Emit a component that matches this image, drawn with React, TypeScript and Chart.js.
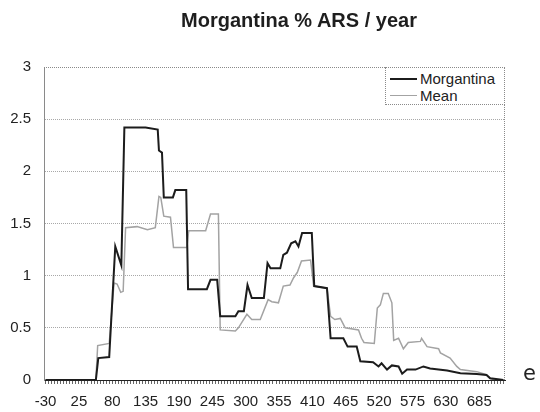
import { useEffect, useRef } from 'react';
import { Chart, registerables } from 'chart.js';

Chart.register(...registerables);

// ---- data (years, % ARS per year) ----
const morgantinaYears = [-30, 53, 57, 75, 85, 95, 100, 135, 155, 157, 162, 165, 180, 184, 202, 205, 236, 242, 253, 258, 283, 288, 297, 303, 310, 330, 336, 341, 357, 362, 368, 375, 382, 387, 393, 409, 413, 434, 440, 461, 468, 483, 489, 510, 519, 524, 533, 541, 552, 558, 566, 580, 593, 604, 632, 654, 681, 697, 703, 719, 725];
const morgantinaValues = [0, 0, 0.21, 0.22, 1.28, 1.1, 2.42, 2.42, 2.4, 2.2, 2.18, 1.75, 1.75, 1.82, 1.82, 0.87, 0.87, 0.96, 0.96, 0.61, 0.61, 0.66, 0.66, 0.91, 0.785, 0.785, 1.12, 1.07, 1.07, 1.2, 1.22, 1.31, 1.33, 1.28, 1.41, 1.41, 0.9, 0.88, 0.4, 0.4, 0.32, 0.32, 0.18, 0.17, 0.13, 0.16, 0.1, 0.14, 0.13, 0.06, 0.1, 0.1, 0.13, 0.11, 0.09, 0.064, 0.058, 0.048, 0.016, 0.005, 0];

const meanYears = [-30, 53, 56, 75, 83, 88, 94, 98, 102, 121, 138, 151, 157, 160, 165, 176, 181, 203, 206, 234, 242, 255, 258, 283, 288, 302, 310, 324, 337, 343, 354, 362, 373, 379, 385, 392, 407, 412, 434, 440, 447, 456, 464, 486, 491, 495, 512, 517, 522, 527, 535, 541, 544, 552, 560, 568, 588, 590, 599, 618, 621, 637, 648, 654, 681, 697, 703, 710, 725];
const meanValues = [0, 0, 0.33, 0.35, 0.93, 0.92, 0.84, 0.85, 1.46, 1.47, 1.44, 1.46, 1.76, 1.75, 1.57, 1.56, 1.27, 1.27, 1.43, 1.43, 1.59, 1.59, 0.48, 0.47, 0.5, 0.63, 0.58, 0.58, 0.77, 0.75, 0.74, 0.9, 0.91, 0.98, 1.03, 1.14, 1.15, 0.9, 0.88, 0.61, 0.58, 0.59, 0.5, 0.48, 0.4, 0.36, 0.35, 0.69, 0.72, 0.83, 0.83, 0.74, 0.38, 0.4, 0.3, 0.36, 0.37, 0.4, 0.32, 0.3, 0.26, 0.21, 0.13, 0.1, 0.08, 0.05, 0.016, 0, 0];

const seriesNames = ['Morgantina', 'Mean'];
const seriesColors = ['#1c1c1c', '#a3a3a3'];
const seriesWidths = [2, 1.5];

const categoryStart = -30;
const categoryEnd = 725;
const categoryStep = 5;
const xLabelValues = [-30, 25, 80, 135, 190, 245, 300, 355, 410, 465, 520, 575, 630, 685];
const yTickValues = [0, 0.5, 1, 1.5, 2, 2.5, 3];

const titleText = 'Morgantina % ARS / year';
const FONT = '"Liberation Sans", Arial, sans-serif';

const framePlugin = {
  id: 'frame',
  afterDraw(chart: any) {
    const { ctx, chartArea } = chart;
    const { left, top, right, bottom } = chartArea;
    ctx.save();
    ctx.strokeStyle = '#8a8a8a';
    ctx.lineWidth = 1;
    ctx.setLineDash([1, 1]);
    ctx.beginPath();
    ctx.moveTo(left, Math.round(top) + 0.5);
    ctx.lineTo(right, Math.round(top) + 0.5);
    ctx.moveTo(Math.round(right) - 0.5, top);
    ctx.lineTo(Math.round(right) - 0.5, bottom);
    ctx.stroke();
    ctx.restore();
  },
};

function zip(xs: number[], ys: number[]) {
  return xs.map((x, i) => ({ x, y: ys[i] }));
}

export default function App() {
  const ref = useRef<HTMLCanvasElement>(null);

  useEffect(() => {
    if (!ref.current) return;
    const chart = new Chart(ref.current, {
      type: 'line',
      data: {
        datasets: [
          {
            label: seriesNames[0],
            data: zip(morgantinaYears, morgantinaValues),
            borderColor: seriesColors[0],
            borderWidth: seriesWidths[0],
            pointRadius: 0,
            tension: 0,
          },
          {
            label: seriesNames[1],
            data: zip(meanYears, meanValues),
            borderColor: seriesColors[1],
            borderWidth: seriesWidths[1],
            pointRadius: 0,
            tension: 0,
          },
        ],
      },
      options: {
        responsive: false,
        animation: false,
        layout: { padding: { left: 0, right: 35, top: 67, bottom: 0 } },
        plugins: {
          legend: { display: false },
          title: { display: false },
          tooltip: { enabled: false },
        },
        scales: {
          x: {
            type: 'linear',
            min: categoryStart - categoryStep / 2,
            max: categoryEnd + categoryStep / 2,
            afterBuildTicks: (scale: any) => {
              const ticks = [];
              for (let v = categoryStart; v <= categoryEnd; v += categoryStep) ticks.push({ value: v });
              scale.ticks = ticks;
            },
            afterFit: (scale: any) => {
              scale.height = 32;
            },
            ticks: {
              autoSkip: false,
              maxRotation: 0,
              minRotation: 0,
              padding: 9,
              color: '#222',
              font: { family: FONT, size: 15 },
              callback: (v: any) => (xLabelValues.includes(Number(v)) ? String(v) : ''),
            },
            grid: {
              drawOnChartArea: false,
              drawTicks: true,
              tickLength: 4,
              color: '#666',
            },
            border: { display: true, color: '#222', width: 1 },
          },
          y: {
            min: 0,
            max: 3,
            afterBuildTicks: (scale: any) => {
              scale.ticks = yTickValues.map((v) => ({ value: v }));
            },
            afterFit: (scale: any) => {
              scale.width = 44;
            },
            ticks: {
              padding: 13,
              color: '#222',
              font: { family: FONT, size: 15 },
              callback: (v: any) => String(v),
            },
            grid: {
              drawTicks: false,
              color: (c: any) => (c.tick && c.tick.value === 3 ? 'rgba(0,0,0,0)' : '#a8a8a8'),
              lineWidth: 1,
            },
            border: { display: true, color: '#8a8a8a', dash: [1, 1] },
          },
        },
      },
      plugins: [framePlugin],
    });
    return () => chart.destroy();
  }, []);

  return (
    <div style={{ position: 'absolute', left: 0, top: 0, width: 540, height: 412, background: '#fff', overflow: 'hidden' }}>
      <canvas ref={ref} width={540} height={412} style={{ position: 'absolute', left: 0, top: 0 }} />
      <div
        style={{
          position: 'absolute',
          left: 0,
          top: 9,
          width: 598,
          textAlign: 'center',
          fontFamily: FONT,
          fontWeight: 'bold',
          fontSize: 20,
          color: '#1e1e1e',
          lineHeight: '22px',
        }}
      >
        {titleText}
      </div>
      <div
        style={{
          position: 'absolute',
          left: 385,
          top: 67,
          width: 120,
          height: 38,
          border: '1px dotted #8a8a8a',
          background: '#fff',
          fontFamily: FONT,
          fontSize: 15,
          color: '#222',
          boxSizing: 'border-box',
        }}
      >
        {seriesNames.map((name, i) => (
          <div key={name} style={{ position: 'absolute', left: 4, top: 2 + i * 17, height: 17, display: 'flex', alignItems: 'center' }}>
            <span style={{ display: 'inline-block', width: 27, height: 0, borderTop: `${seriesWidths[i]}px solid ${seriesColors[i]}`, marginRight: 3 }} />
            <span style={{ lineHeight: '17px' }}>{name}</span>
          </div>
        ))}
      </div>
      <span
        style={{
          position: 'absolute',
          left: 523,
          top: 361,
          fontFamily: '"DejaVu Sans", sans-serif',
          fontSize: 21,
          color: '#222',
        }}
      >
        e
      </span>
    </div>
  );
}
